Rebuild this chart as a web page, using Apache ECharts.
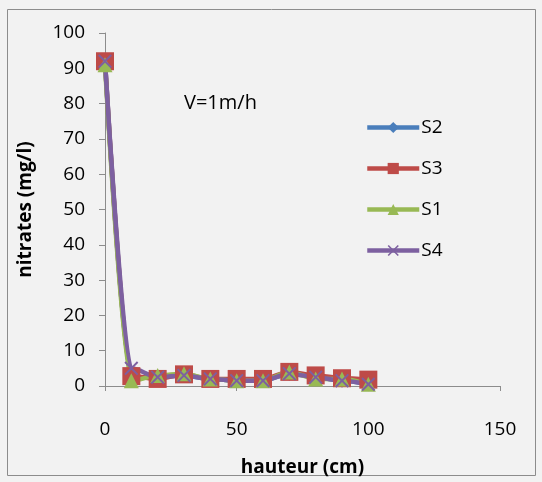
<!DOCTYPE html>
<html><head><meta charset="utf-8">
<script src="https://cdn.jsdelivr.net/npm/echarts@6/dist/echarts.min.js"></script>
<style>html,body{margin:0;padding:0;background:#f2f2f2;}#c{width:542px;height:482px;}</style>
</head><body><div id="c"></div>
<script>
const hauteur = [0, 10, 20, 30, 40, 50, 60, 70, 80, 90, 100];
const S2 = [92, 2.5, 2.5, 3, 2, 1.5, 1.5, 3.5, 2.5, 1.5, 0.5];
const S3 = [92, 2.8, 2, 3.3, 2, 2, 2, 4, 3, 2.2, 1.8];
const S1 = [91, 1.5, 3, 3.5, 2, 1.5, 1.5, 4, 2, 2, 0.5];
const S4 = [92, 5, 2.5, 3, 2, 1.5, 1.5, 3.5, 2.5, 1.5, 0.5];
const annotation = 'V=1m/h';

const font = '"Open Sans", "Noto Sans", sans-serif';
const X = 'path://M0,1L1,0L5,4L9,0L10,1L6,5L10,9L9,10L5,6L1,10L0,9L4,5Z';
function pts(v){ return hauteur.map((h,i)=>[h, v[i]]); }
function ser(name, data, color, symbol, size){
  return {name, type:'line', smooth:0.3, smoothMonotone:'x', data:pts(data), symbol, symbolSize:size,
    lineStyle:{color, width:4.5}, itemStyle:{color}, z: 2};
}
const chart = echarts.init(document.getElementById('c'));
chart.setOption({
  backgroundColor:'#f2f2f2',
  animation:false,
  graphic:[{type:'rect', shape:{x:7.5,y:9.5,width:528,height:466}, style:{fill:'none', stroke:'#8c8c8c', lineWidth:1}, z:-1},
    {type:'text', left:184, top:93, style:{text:annotation, font:'20px '+font, fill:'#000'}}],
  grid:{left:105, right:42, top:33, bottom:95},
  legend:{orient:'vertical', left:360, top:113, itemWidth:52, itemHeight:14, itemGap:22,
    lineStyle:{width:4.5},
    textStyle:{fontSize:19, fontFamily:font, color:'#000', padding:[0,0,0,-3]},
    data:['S2','S3','S1','S4']},
  xAxis:{type:'value', min:0, max:150, interval:50, name:'hauteur (cm)', nameLocation:'middle', nameGap:72,
    nameTextStyle:{fontSize:19, fontWeight:'bold', fontFamily:font, color:'#000'},
    axisLine:{lineStyle:{color:'#8c8c8c'}}, axisTick:{show:true, length:5, lineStyle:{color:'#8c8c8c'}},
    axisLabel:{fontSize:19, fontFamily:font, color:'#000', margin:34}, splitLine:{show:false}},
  yAxis:{type:'value', min:0, max:100, interval:10, name:'nitrates (mg/l)', nameLocation:'middle', nameGap:70,
    nameTextStyle:{fontSize:19, fontWeight:'bold', fontFamily:font, color:'#000'},
    axisLine:{show:true, lineStyle:{color:'#8c8c8c'}}, axisTick:{show:true, length:6, lineStyle:{color:'#8c8c8c'}},
    axisLabel:{fontSize:19, fontFamily:font, color:'#000', margin:20}, splitLine:{show:false}},
  series:[
    ser('S2', S2, '#4a7ebb', 'diamond', 14),
    ser('S3', S3, '#be4b48', 'rect', 18),
    ser('S1', S1, '#98b954', 'triangle', 15),
    ser('S4', S4, '#7d60a0', X, 14)
  ]
});
</script></body></html>
